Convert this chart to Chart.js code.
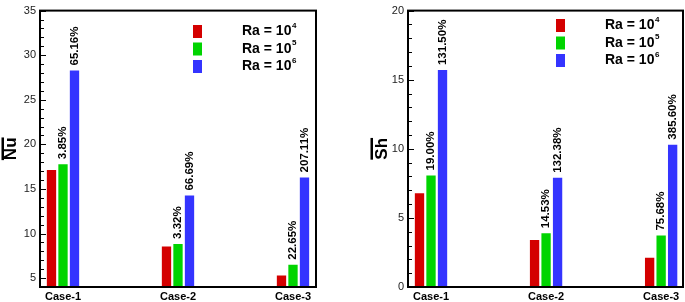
<!DOCTYPE html>
<html>
<head>
<meta charset="utf-8">
<script src="https://cdn.jsdelivr.net/npm/chart.js"></script>
<style>
  html, body { margin: 0; padding: 0; background: #fff; }
  #wrap { position: relative; width: 685px; height: 302px; overflow: hidden; }
  .panel { position: absolute; top: 0; }
</style>
</head>
<body>
<div id="wrap">
  <canvas id="nu" class="panel" style="left:0px" width="330" height="302"></canvas>
  <canvas id="sh" class="panel" style="left:355px" width="330" height="302"></canvas>
</div>
<script>
// data
const cases = ["Case-1", "Case-2", "Case-3"];
const raBase = "Ra = 10";
const raExp = ["4", "5", "6"];
const colors = ["#d40000", "#00d400", "#3434ff"];

const nuRa4 = [17.12, 8.55, 5.30];
const nuRa5 = [17.78, 8.83, 6.50];
const nuRa6 = [28.28, 14.25, 16.28];
const nuPct5 = ["3.85%", "3.32%", "22.65%"];
const nuPct6 = ["65.16%", "66.69%", "207.11%"];

const shRa4 = [6.78, 3.40, 2.12];
const shRa5 = [8.07, 3.89, 3.72];
const shRa6 = [15.70, 7.90, 10.30];
const shPct5 = ["19.00%", "14.53%", "75.68%"];
const shPct6 = ["131.50%", "132.38%", "385.60%"];

Chart.defaults.font.family = "'Liberation Sans', Arial, sans-serif";
Chart.defaults.color = "#000";

const toPoints = arr => arr.map((v, i) => ({ x: i + 1, y: v }));

// frame, inside ticks, overlined axis title
const framePlugin = {
  id: "frame",
  afterDraw(chart) {
    const { ctx, chartArea: a, scales: { y } } = chart;
    ctx.save();
    ctx.strokeStyle = "#000";
    ctx.lineWidth = 1;
    for (let v = Math.ceil(y.min); v <= y.max; v++) {
      const py = Math.round(y.getPixelForValue(v)) + 0.5;
      const len = v % 5 === 0 ? 6 : 4;
      ctx.beginPath();
      ctx.moveTo(a.left, py);
      ctx.lineTo(a.left + len, py);
      ctx.stroke();
    }
    ctx.lineWidth = 2;
    ctx.strokeRect(a.left, a.top, a.right - a.left, a.bottom - a.top);

    // overline on the rotated axis title
    const t = y.options.title;
    ctx.font = "bold " + t.font.size + "px 'Liberation Sans', Arial, sans-serif";
    const w = ctx.measureText(t.text).width;
    const cy = (a.top + a.bottom) / 2;
    ctx.fillStyle = "#000";
    ctx.fillRect(chart.options.overlineX, cy - w / 2, 2.5, w);
    ctx.restore();
  }
};

// rotated percentage labels above green and blue bars
const pctPlugin = {
  id: "pct",
  afterDatasetsDraw(chart) {
    const { ctx } = chart;
    ctx.save();
    ctx.fillStyle = "#000";
    ctx.font = "bold 11.5px 'Liberation Sans', Arial, sans-serif";
    ctx.textAlign = "left";
    ctx.textBaseline = "middle";
    chart.data.datasets.forEach((ds, di) => {
      if (!ds.pct) return;
      chart.getDatasetMeta(di).data.forEach((el, i) => {
        ctx.save();
        ctx.translate(el.x, el.y - 5);
        ctx.rotate(-Math.PI / 2);
        ctx.fillText(ds.pct[i], 0, 0);
        ctx.restore();
      });
    });
    ctx.restore();
  }
};

// legend with colour blocks and superscript exponents
const keyPlugin = {
  id: "key",
  afterDraw(chart) {
    const { ctx, chartArea: a } = chart;
    const o = chart.options.key;
    ctx.save();
    chart.data.datasets.forEach((ds, i) => {
      const cy = o.top + i * 17.5;
      ctx.fillStyle = ds.backgroundColor;
      ctx.fillRect(a.right - o.boxDx, cy - 6.5, 9, 13);
      ctx.fillStyle = "#000";
      ctx.textBaseline = "middle";
      ctx.textAlign = "left";
      ctx.font = "bold 14px 'Liberation Sans', Arial, sans-serif";
      const tx = a.right - o.textDx;
      ctx.fillText(raBase, tx, cy);
      const w = ctx.measureText(raBase).width;
      ctx.font = "bold 8px 'Liberation Sans', Arial, sans-serif";
      ctx.fillText(raExp[i], tx + w + 0.5, cy - 6);
    });
    ctx.restore();
  }
};

function makeChart(id, cfg) {
  new Chart(document.getElementById(id), {
    type: "bar",
    data: {
      datasets: [
        { label: raBase + raExp[0], data: toPoints(cfg.s4), backgroundColor: colors[0] },
        { label: raBase + raExp[1], data: toPoints(cfg.s5), backgroundColor: colors[1], pct: cfg.p5 },
        { label: raBase + raExp[2], data: toPoints(cfg.s6), backgroundColor: colors[2], pct: cfg.p6 }
      ]
    },
    plugins: [framePlugin, pctPlugin, keyPlugin],
    options: {
      responsive: false,
      animation: false,
      overlineX: cfg.overlineX,
      key: cfg.key,
      layout: { padding: cfg.padding },
      datasets: { bar: { categoryPercentage: 0.3, barPercentage: 0.81 } },
      plugins: { legend: { display: false }, tooltip: { enabled: false } },
      scales: {
        x: {
          type: "linear",
          offset: false,
          min: 0.8,
          max: cfg.xMax,
          afterBuildTicks: s => { s.ticks = cases.map((c, i) => ({ value: i + 1 })); },
          afterFit: s => { s.height = 15; },
          ticks: {
            autoSkip: false,
            maxRotation: 0,
            padding: 3,
            font: { size: 11, weight: "bold" },
            callback: v => cases[v - 1]
          },
          grid: { display: false, drawTicks: false, offset: false },
          border: { display: false }
        },
        y: {
          min: cfg.yMin,
          max: cfg.yMax,
          afterBuildTicks: s => {
            const t = [];
            for (let v = Math.ceil(cfg.yMin / 5) * 5; v <= cfg.yMax; v += 5) t.push({ value: v });
            s.ticks = t;
          },
          afterFit: s => { s.width = cfg.yWidth; },
          ticks: { stepSize: 5, padding: 4, font: { size: 11 }, color: "#222" },
          grid: { display: false, drawTicks: false },
          border: { display: false },
          title: {
            display: true,
            text: cfg.title,
            font: { size: 17, weight: "bold" },
            padding: { top: 1, bottom: 0 }
          }
        }
      }
    }
  });
}

makeChart("nu", {
  s4: nuRa4, s5: nuRa5, s6: nuRa6, p5: nuPct5, p6: nuPct6,
  title: "Nu", yMin: 4, yMax: 35, xMax: 3.2, yWidth: 40,
  padding: { left: 0, right: 14, top: 4, bottom: 0 },
  overlineX: 1.5,
  key: { top: 31.5, boxDx: 123, textDx: 74 }
});

makeChart("sh", {
  s4: shRa4, s5: shRa5, s6: shRa6, p5: shPct5, p6: shPct6,
  title: "Sh", yMin: 0, yMax: 20, xMax: 3.19, yWidth: 37,
  padding: { left: 16, right: 2, top: 4, bottom: 0 },
  overlineX: 15.5,
  key: { top: 25.5, boxDx: 127, textDx: 78 }
});
</script>
</body>
</html>
